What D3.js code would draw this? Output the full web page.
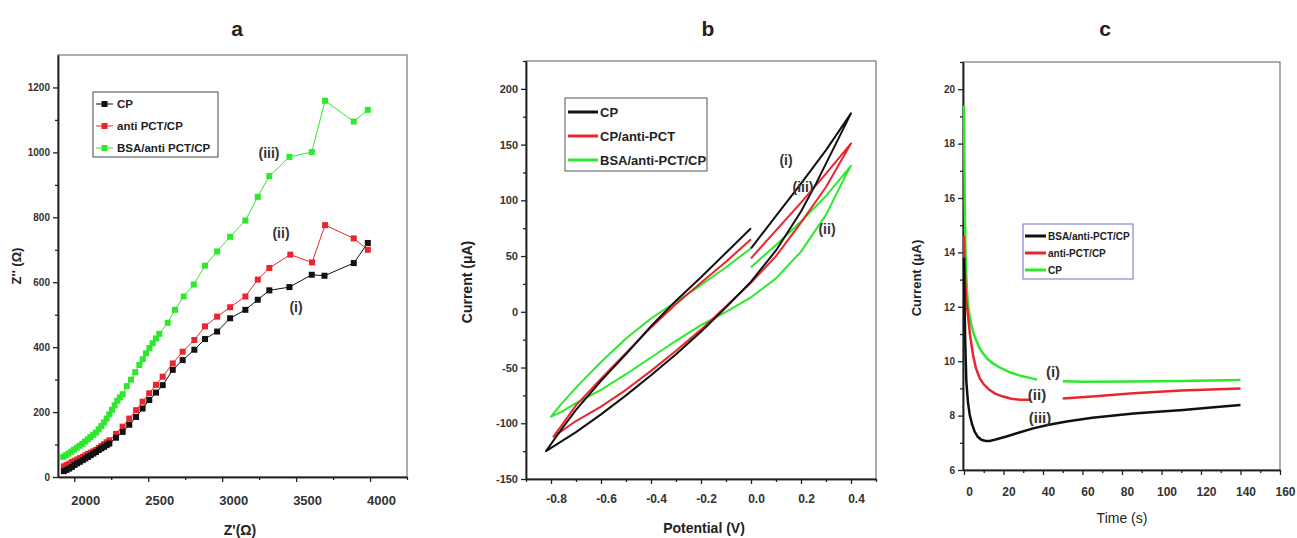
<!DOCTYPE html>
<html>
<head>
<meta charset="utf-8">
<script src="https://cdn.jsdelivr.net/npm/d3@7"></script>
<style>
  body { margin: 0; background: #fff; }
  text { font-family: "Liberation Sans Narrow", "Liberation Sans", Arial, sans-serif; }
</style>
</head>
<body>
<script>
// ---- panel a : Nyquist plot (Z', Z'') ----
const nyqCP = [[1930,18],[1948,22],[1966,26],[1984,31],[2002,37],[2020,42],[2038,47],[2057,52],[2075,57],[2093,62],[2111,67],[2129,72],[2147,77],[2165,83],[2183,88],[2201,93],[2219,98],[2237,103],[2282,121],[2327,139],[2372,161],[2418,185],[2462,211],[2507,237],[2553,260],[2598,283],[2666,330],[2733,360],[2812,392],[2884,425],[2966,448],[3054,489],[3157,515],[3241,546],[3319,575],[3455,585],[3606,623],[3692,620],[3890,659],[3985,721]];
const nyqAnti = [[1930,33],[1948,37],[1966,41],[1984,46],[2002,50],[2020,54],[2038,58],[2057,62],[2075,67],[2093,71],[2111,75],[2129,79],[2147,83],[2165,89],[2183,95],[2201,101],[2219,107],[2237,113],[2282,133],[2327,155],[2372,180],[2418,206],[2462,232],[2507,258],[2553,284],[2598,309],[2666,350],[2733,386],[2812,422],[2884,464],[2966,494],[3054,523],[3157,556],[3241,608],[3319,644],[3461,685],[3608,661],[3696,776],[3890,735],[3985,700]];
const nyqBSA = [[1925,62],[1943,67],[1961,72],[1980,78],[1998,84],[2017,90],[2035,96],[2054,102],[2072,109],[2091,116],[2109,123],[2128,130],[2147,137],[2165,147],[2183,157],[2201,168],[2219,180],[2237,193],[2255,207],[2273,221],[2291,235],[2309,245],[2327,255],[2355,280],[2384,300],[2412,323],[2440,345],[2463,363],[2485,381],[2508,397],[2530,412],[2553,427],[2575,441],[2632,475],[2681,515],[2740,556],[2808,593],[2884,651],[2966,695],[3054,740],[3157,790],[3241,863],[3319,927],[3455,986],[3606,1001],[3696,1159],[3890,1095],[3985,1131]];
const nyqTicksX = [2000, 2500, 3000, 3500, 4000];
const nyqMinorX = [2250, 2750, 3250, 3750, 4250];
const nyqTicksY = [0, 200, 400, 600, 800, 1000, 1200];
const nyqMinorY = [100, 300, 500, 700, 900, 1100];
const nyqNames = ["CP", "anti PCT/CP", "BSA/anti PCT/CP"];

// ---- panel b : cyclic voltammograms (V, µA) ----
const cvCP = [[0.0,75],[-0.1,53],[-0.2,31],[-0.3,10],[-0.4,-13],[-0.5,-38],[-0.6,-62],[-0.7,-88],[-0.76,-106],[-0.82,-125],
  [-0.7,-108],[-0.6,-92],[-0.5,-75],[-0.4,-57],[-0.3,-38],[-0.2,-18],[-0.1,4],[0.0,27],[0.1,55],[0.2,90],[0.26,115],[0.4,178],
  [0.3,145],[0.2,115],[0.1,86],[0.0,57]];
const cvAnti = [[0.0,65],[-0.1,45],[-0.2,26],[-0.3,7],[-0.4,-14],[-0.5,-37],[-0.6,-60],[-0.7,-84],[-0.79,-112],
  [-0.7,-98],[-0.6,-85],[-0.5,-70],[-0.4,-53],[-0.3,-35],[-0.2,-16],[-0.1,5],[0.0,26],[0.1,50],[0.2,80],[0.3,112],[0.4,151],
  [0.3,124],[0.2,98],[0.1,73],[0.0,48]];
const cvBSA = [[0.0,57],[-0.1,40],[-0.2,24],[-0.3,9],[-0.4,-6],[-0.5,-24],[-0.6,-45],[-0.7,-68],[-0.76,-83],[-0.8,-94],
  [-0.76,-90],[-0.7,-82],[-0.6,-70],[-0.5,-56],[-0.4,-41],[-0.3,-26],[-0.2,-12],[-0.1,0],[0.0,13],[0.1,30],[0.2,54],[0.3,87],[0.38,123],[0.4,131],
  [0.3,104],[0.2,81],[0.1,60],[0.0,40]];
const cvTicksX = [-0.8, -0.6, -0.4, -0.2, 0.0, 0.2, 0.4];
const cvMinorX = [-0.9, -0.7, -0.5, -0.3, -0.1, 0.1, 0.3, 0.5];
const cvTicksY = [-150, -100, -50, 0, 50, 100, 150, 200];
const cvMinorY = [-125, -75, -25, 25, 75, 125, 175, 225];
const cvNames = ["CP", "CP/anti-PCT", "BSA/anti-PCT/CP"];

// ---- panel c : amperometry (s, µA) ; null = gap under a label ----
const ampBSA = [[0,13.8],[0.3,12.0],[0.6,10.8],[1.2,9.25],[2,8.5],[2.9,8.03],[4,7.7],[5.4,7.41],[7,7.22],[8.8,7.11],[11,7.07],[13,7.07],[16,7.12],[21.5,7.23],[28,7.38],[35,7.53],[43,7.66],[52,7.78],[65,7.92],[85.8,8.08],[100,8.15],[111,8.21],[125,8.3],[140,8.39]];
const ampAnti = [[0,14.6],[0.3,13.6],[0.7,12.8],[1.2,12.2],[2,11.7],[3,11.0],[4,10.5],[4.6,10.23],[6,9.75],[8,9.37],[10,9.15],[13,8.94],[16,8.8],[19.8,8.7],[24,8.62],[28.3,8.58],[34,8.58],null,[50,8.63],[65,8.7],[85.8,8.82],[110,8.92],[140,9.0]];
const ampCP = [[0,19.4],[0.2,17.5],[0.4,15.8],[0.7,14.3],[1,13.4],[1.5,12.6],[2,12.1],[3,11.6],[4,11.25],[5,11.0],[6,10.8],[8,10.47],[10,10.25],[12,10.08],[14.7,9.92],[18,9.77],[23,9.6],[28,9.48],[35,9.36],[37,9.33],null,[50,9.26],[60,9.24],[85,9.25],[110,9.27],[140,9.31]];
const ampTicksX = [0, 20, 40, 60, 80, 100, 120, 140, 160];
const ampMinorX = [10, 30, 50, 70, 90, 110, 130, 150];
const ampTicksY = [6, 8, 10, 12, 14, 16, 18, 20];
const ampMinorY = [7, 9, 11, 13, 15, 17, 19, 21];
const ampNames = ["BSA/anti-PCT/CP", "anti-PCT/CP", "CP"];

const BLACK = "#111", RED = "#e8262b", GREEN = "#2ee82e";

const svg = d3.select("body").append("svg")
    .attr("width", 1297)
    .attr("height", 538);

// axes + frame for one panel
function axes(x, y, o) {
  const [x0, x1] = x.range(), [y0, y1] = y.range();
  svg.append("rect")
      .attr("x", x0).attr("y", y1)
      .attr("width", x1 - x0).attr("height", y0 - y1)
      .attr("fill", "none").attr("stroke", "#777").attr("stroke-width", 1.2);

  const bx = svg.append("g").attr("transform", `translate(0,${y0})`);
  bx.append("g").call(d3.axisBottom(x).tickValues(o.xMinor).tickSize(3).tickSizeOuter(0).tickFormat(""));
  bx.append("g").call(d3.axisBottom(x).tickValues(o.xTicks).tickSize(5).tickSizeOuter(0).tickPadding(o.xPad).tickFormat(o.xFmt))
    .selectAll("text").attr("dx", o.xShift).style("font-size", o.xFont).style("font-weight", "bold").attr("fill", "#333");

  const ly = svg.append("g").attr("transform", `translate(${x0},0)`);
  ly.append("g").call(d3.axisLeft(y).tickValues(o.yMinor).tickSize(3).tickSizeOuter(0).tickFormat(""));
  ly.append("g").call(d3.axisLeft(y).tickValues(o.yTicks).tickSize(5).tickSizeOuter(0).tickPadding(3).tickFormat(d => String(d)))
    .selectAll("text").style("font-size", o.yFont).style("font-weight", "bold").attr("fill", "#333");

  svg.selectAll(".domain").attr("stroke", "#222").attr("stroke-width", 1.5);
  svg.selectAll(".tick line").attr("stroke", "#222").attr("stroke-width", 1.3);
}

function label(x, y, txt, size, rotate, weight) {
  svg.append("text")
      .attr("transform", `translate(${x},${y})` + (rotate ? " rotate(-90)" : ""))
      .attr("text-anchor", "middle")
      .style("font-family", '"Liberation Sans", Arial, sans-serif')
      .style("font-size", size + "px")
      .style("font-weight", weight || "bold")
      .attr("fill", "#222")
      .text(txt);
}

function note(x, y, txt, size) {
  svg.append("text")
      .attr("x", x).attr("y", y)
      .attr("text-anchor", "middle")
      .style("font-size", size + "px")
      .style("font-weight", "bold")
      .attr("fill", "#333")
      .text(txt);
}

// panel titles
label(237, 36, "a", 21);
label(708, 36, "b", 21);
label(1105, 36, "c", 21);

// ================= panel a =================
const xa = d3.scaleLinear().domain([1890, 4250]).range([58, 407]);
const ya = d3.scaleLinear().domain([0, 1300]).range([477, 55]);
axes(xa, ya, {xTicks: nyqTicksX, xMinor: nyqMinorX, yTicks: nyqTicksY, yMinor: nyqMinorY,
              xFmt: d => String(d), xShift: 11, xPad: 14, xFont: "13px", yFont: "10px"});

const nyqSeries = [nyqCP, nyqAnti, nyqBSA];
const nyqColors = [BLACK, RED, GREEN];
const lineA = d3.line().x(d => xa(d[0])).y(d => ya(d[1]));
// green first so black/red sit on top as in the figure
[2, 1, 0].forEach(i => {
  svg.append("path")
      .attr("d", lineA(nyqSeries[i]))
      .attr("fill", "none")
      .attr("stroke", nyqColors[i])
      .attr("stroke-width", 1);
  svg.append("g").selectAll("rect")
      .data(nyqSeries[i])
      .enter()
      .append("rect")
      .attr("x", d => xa(d[0]) - 3)
      .attr("y", d => ya(d[1]) - 3)
      .attr("width", 6)
      .attr("height", 6)
      .attr("fill", nyqColors[i]);
});

const legA = svg.append("g");
legA.append("rect").attr("x", 93).attr("y", 92).attr("width", 125).attr("height", 65)
    .attr("fill", "#fff").attr("stroke", "#444").attr("stroke-width", 1);
nyqNames.forEach((n, i) => {
  const yy = 104 + i * 22;
  legA.append("line").attr("x1", 96).attr("x2", 113).attr("y1", yy).attr("y2", yy)
      .attr("stroke", nyqColors[i]).attr("stroke-width", 1);
  legA.append("rect").attr("x", 101.5).attr("y", yy - 3).attr("width", 6).attr("height", 6).attr("fill", nyqColors[i]);
  legA.append("text").attr("x", 117).attr("y", yy + 4)
      .style("font-size", "11.5px").style("font-weight", "bold").attr("fill", "#222").text(n);
});

note(269, 158, "(iii)", 14);
note(281, 238, "(ii)", 14);
note(296, 312, "(i)", 14);

label(21, 266, "Z'' (Ω)", 13, true);
label(240, 535, "Z'(Ω)", 14);

// ================= panel b =================
const xb = d3.scaleLinear().domain([-0.9, 0.5]).range([526, 876]);
const yb = d3.scaleLinear().domain([-150, 225]).range([479, 61]);
axes(xb, yb, {xTicks: cvTicksX, xMinor: cvMinorX, yTicks: cvTicksY, yMinor: cvMinorY,
              xFmt: d => d.toFixed(1), xShift: 5, xPad: 10, xFont: "12px", yFont: "11px"});

const cvSeries = [cvCP, cvAnti, cvBSA];
const cvColors = [BLACK, RED, GREEN];
const lineB = d3.line().x(d => xb(d[0])).y(d => yb(d[1]));
[2, 1, 0].forEach(i => {
  svg.append("path")
      .attr("d", lineB(cvSeries[i]))
      .attr("fill", "none")
      .attr("stroke", cvColors[i])
      .attr("stroke-width", 2)
      .attr("stroke-linejoin", "round");
});

const legB = svg.append("g");
legB.append("rect").attr("x", 565).attr("y", 98).attr("width", 142).attr("height", 73)
    .attr("fill", "#fff").attr("stroke", "#555").attr("stroke-width", 1);
cvNames.forEach((n, i) => {
  const yy = 112 + i * 24;
  legB.append("line").attr("x1", 568).attr("x2", 598).attr("y1", yy).attr("y2", yy)
      .attr("stroke", cvColors[i]).attr("stroke-width", 3);
  legB.append("text").attr("x", 600).attr("y", yy + 5)
      .style("font-family", '"Liberation Sans", Arial, sans-serif')
      .style("font-size", "13px").style("font-weight", "bold").attr("fill", "#222").text(n);
});

note(786, 165, "(i)", 14);
note(803, 192, "(iii)", 14);
note(827, 234, "(ii)", 14);

label(472, 282, "Current (μA)", 14, true);
label(704, 533, "Potential (V)", 14);

// ================= panel c =================
const xc = d3.scaleLinear().domain([-0.5, 160]).range([963, 1280]);
const yc = d3.scaleLinear().domain([6, 21]).range([470, 62]);
axes(xc, yc, {xTicks: ampTicksX, xMinor: ampMinorX, yTicks: ampTicksY, yMinor: ampMinorY,
              xFmt: d => String(d), xShift: 5, xPad: 12, xFont: "12px", yFont: "10px"});

const ampSeries = [ampBSA, ampAnti, ampCP];
const ampColors = [BLACK, RED, GREEN];
const lineC = d3.line().defined(d => d).x(d => xc(d[0])).y(d => yc(d[1]));
[2, 1, 0].forEach(i => {
  svg.append("path")
      .attr("d", lineC(ampSeries[i]))
      .attr("fill", "none")
      .attr("stroke", ampColors[i])
      .attr("stroke-width", 2.5);
});

const legC = svg.append("g");
legC.append("rect").attr("x", 1023).attr("y", 224).attr("width", 110).attr("height", 55)
    .attr("fill", "#fff").attr("stroke", "#6c6cc8").attr("stroke-width", 1);
ampNames.forEach((n, i) => {
  const yy = 236 + i * 17;
  legC.append("line").attr("x1", 1025).attr("x2", 1046).attr("y1", yy).attr("y2", yy)
      .attr("stroke", ampColors[i]).attr("stroke-width", 3);
  legC.append("text").attr("x", 1048).attr("y", yy + 4)
      .style("font-size", "10px").style("font-weight", "bold").attr("fill", "#222").text(n);
});

note(1053, 377, "(i)", 15);
note(1037, 400, "(ii)", 15);
note(1040, 423, "(iii)", 15);

label(921, 278, "Current (μA)", 13, true);
label(1122, 523, "Time (s)", 14, false, "normal");
</script>
</body>
</html>
